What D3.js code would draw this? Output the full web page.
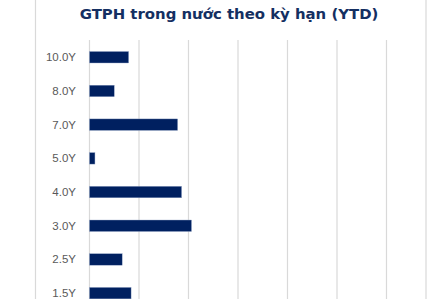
<!DOCTYPE html>
<html>
<head>
<meta charset="utf-8">
<script src="https://cdn.jsdelivr.net/npm/d3@7"></script>
<style>
  body { margin: 0; background: #fff; }
  svg { display: block; }
</style>
</head>
<body>
<svg id="chart" width="448" height="299"></svg>
<script>
// ky han (tenor) categories, top to bottom as shown
const tenors = ['10.0Y', '8.0Y', '7.0Y', '5.0Y', '4.0Y', '3.0Y', '2.5Y', '1.5Y']
// issued value YTD
const issued = [3950, 2500, 8900, 550, 9300, 10300, 3300, 4200]
// gridline values
const gridTicks = [0, 5000, 10000, 15000, 20000, 25000, 30000]

const data = tenors.map((t, i) => ({ tenor: t, value: issued[i] }))

const svg = d3.select('#chart')

// frame of the chart object
svg.append('line')
  .attr('x1', 35.5).attr('x2', 35.5).attr('y1', 0).attr('y2', 299)
  .attr('stroke', '#d9d9d9').attr('stroke-width', 1.2)
svg.append('line')
  .attr('x1', 426).attr('x2', 426).attr('y1', 0).attr('y2', 299)
  .attr('stroke', '#d9d9d9').attr('stroke-width', 1.2)

svg.append('text')
  .attr('x', 229)
  .attr('y', 19)
  .attr('text-anchor', 'middle')
  .style('font-family', 'DejaVu Sans, Verdana, sans-serif')
  .style('font-weight', 'bold')
  .style('font-size', '14.9px')
  .style('fill', '#142f62')
  .text('GTPH trong nước theo kỳ hạn (YTD)')

const x = d3.scaleLinear().domain([0, 35000]).range([89.5, 436])
const y = d3.scaleBand().domain(tenors).range([40.4, 310]).paddingInner(0.66).paddingOuter(0.33)

// vertical gridlines
svg.append('g')
  .selectAll('line')
  .data(gridTicks.filter(v => x(v) < 424))
  .join('line')
  .attr('x1', d => x(d)).attr('x2', d => x(d))
  .attr('y1', 40).attr('y2', 299)
  .attr('stroke', '#d9d9d9')
  .attr('stroke-width', 1.2)

// category labels
svg.append('g')
  .selectAll('text')
  .data(tenors)
  .join('text')
  .attr('x', 76)
  .attr('y', d => y(d) + y.bandwidth() / 2)
  .attr('dy', '0.35em')
  .attr('text-anchor', 'end')
  .style('font-family', 'Liberation Sans, Arial, sans-serif')
  .style('font-size', '11.5px')
  .style('fill', '#595959')
  .text(d => d)

svg.append('g')
  .selectAll('rect')
  .data(data)
  .join('rect')
  .attr('x', x(0))
  .attr('y', d => y(d.tenor))
  .attr('width', d => x(d.value) - x(0))
  .attr('height', y.bandwidth())
  .attr('fill', '#002060')
  .attr('stroke', '#8ea0c4')
  .attr('stroke-width', 0.4)
</script>
</body>
</html>
